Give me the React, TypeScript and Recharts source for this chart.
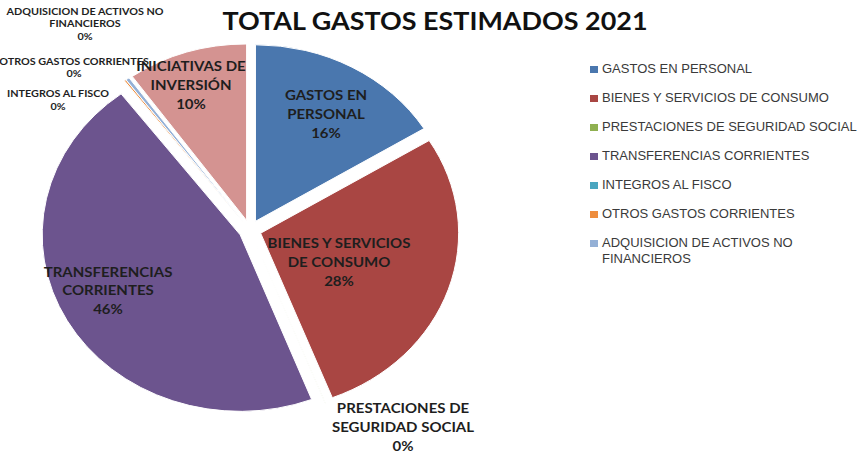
import {Legend, Pie, PieChart} from 'recharts';

const CATEGORIES = [
    'GASTOS EN PERSONAL',
    'BIENES Y SERVICIOS DE CONSUMO',
    'PRESTACIONES DE SEGURIDAD SOCIAL',
    'TRANSFERENCIAS CORRIENTES',
    'INTEGROS AL FISCO',
    'OTROS GASTOS CORRIENTES',
    'ADQUISICION DE ACTIVOS NO FINANCIEROS',
    'INICIATIVAS DE INVERSIÓN',
];
const VALUES = [16.2, 27.9, 0.02, 45.6, 0.02, 0.15, 0.3, 9.8];
const LABEL_LINES = [
    ['GASTOS EN', 'PERSONAL'],
    ['BIENES Y SERVICIOS', 'DE CONSUMO'],
    ['PRESTACIONES DE', 'SEGURIDAD SOCIAL'],
    ['TRANSFERENCIAS', 'CORRIENTES'],
    ['INTEGROS AL FISCO'],
    ['OTROS GASTOS CORRIENTES'],
    ['ADQUISICION DE ACTIVOS NO', 'FINANCIEROS'],
    ['INICIATIVAS DE', 'INVERSIÓN'],
];
const HIDDEN_IN_LEGEND = ['INICIATIVAS DE INVERSIÓN'];
const TITLE = 'TOTAL GASTOS ESTIMADOS 2021';

const COLORS = ['#4a77ae', '#a94643', '#8fb050', '#6c548e', '#4aa6c0', '#ee8d3e', '#94b0d6', '#d49391'];

// label anchors: center x, first baseline y, font size, line height
const LABEL_STYLE = [
    {x: 326, y: 100, fs: 12.5, lh: 19},
    {x: 339, y: 248, fs: 12.5, lh: 19},
    {x: 403, y: 413, fs: 12.5, lh: 19},
    {x: 108, y: 277, fs: 12.5, lh: 18.5},
    {x: 58, y: 97, fs: 9, lh: 13.5},
    {x: 74, y: 65, fs: 9, lh: 12.5},
    {x: 85, y: 14.5, fs: 9, lh: 13},
    {x: 191, y: 71, fs: 12.5, lh: 19},
];

const W = 858;
const H = 455;
const PIE_CX = 250;
const PIE_CY = 230;
const RADIUS = 176.5;
const STRETCH_X = 198 / 176.5;
const EXPLODE = 10;
const RAD = Math.PI / 180;
const LABEL_FONT = 'Lato, "Open Sans", sans-serif';

const data = CATEGORIES.map((name, i) => ({name, value: VALUES[i], fill: COLORS[i]}));

function ExplodedSlice(props: any) {
    const {cx, cy, outerRadius, startAngle, endAngle, fill} = props;
    const mid = (startAngle + endAngle) / 2;
    const ox = cx + EXPLODE * STRETCH_X * Math.cos(-mid * RAD);
    const oy = cy + EXPLODE * Math.sin(-mid * RAD);
    const rx = outerRadius * STRETCH_X;
    const pt = (a: number) => [ox + rx * Math.cos(-a * RAD), oy + outerRadius * Math.sin(-a * RAD)];
    const [x1, y1] = pt(startAngle);
    const [x2, y2] = pt(endAngle);
    const large = Math.abs(endAngle - startAngle) > 180 ? 1 : 0;
    const sweep = startAngle > endAngle ? 1 : 0;
    return (
        <path
            d={`M${ox},${oy} L${x1},${y1} A${rx},${outerRadius} 0 ${large} ${sweep} ${x2},${y2} Z`}
            fill={fill}
            stroke="#ffffff"
            strokeWidth={1}
        />
    );
}

function renderLabel(props: any) {
    const {index, percent} = props;
    const s = LABEL_STYLE[index];
    const lines = [...LABEL_LINES[index], `${Math.round(percent * 100)}%`];
    return (
        <g key={`lbl-${index}`} transform={`translate(${s.x},${s.y}) scale(1.2,1)`}>
            <text
                textAnchor="middle"
                fontFamily={LABEL_FONT}
                fontWeight={700}
                fontSize={s.fs}
                fill="#1e1e1e"
            >
                {lines.map((ln, i) => (
                    <tspan key={i} x={0} y={i * s.lh}>
                        {ln}
                    </tspan>
                ))}
            </text>
        </g>
    );
}

function LegendList({payload}: any) {
    const items = (payload ?? [])
        .filter((p: any) => !HIDDEN_IN_LEGEND.includes(p.value))
        .sort((a: any, b: any) => CATEGORIES.indexOf(a.value) - CATEGORIES.indexOf(b.value));
    return (
        <div style={{fontFamily: '"Liberation Sans", Arial, sans-serif', fontSize: 13, color: '#3a3a3a'}}>
            {items.map((p: any) => (
                <div key={p.value} style={{display: 'flex', alignItems: 'flex-start', lineHeight: '16px', marginBottom: 13}}>
                    <span style={{width: 8, height: 7, marginTop: 5, marginRight: 4, background: p.color, flex: 'none'}}/>
                    <span style={{width: 258}}>{p.value}</span>
                </div>
            ))}
        </div>
    );
}

export default function App() {
    return (
        <div style={{position: 'absolute', left: 0, top: 0, width: W, height: H, background: '#ffffff'}}>
            <svg width={W} height={H} style={{position: 'absolute', left: 0, top: 0}}>
                <text
                    x={435}
                    y={30}
                    textAnchor="middle"
                    fontFamily={LABEL_FONT}
                    fontWeight={700}
                    fontSize={25}
                    textLength={425}
                    lengthAdjust="spacingAndGlyphs"
                    fill="#111111"
                >
                    {TITLE}
                </text>
            </svg>
            <div style={{position: 'absolute', left: 0, top: 0}}>
                <PieChart width={W} height={H} margin={{top: 0, right: 0, bottom: 0, left: 0}}>
                    <Pie
                        data={data}
                        dataKey="value"
                        nameKey="name"
                        cx={PIE_CX}
                        cy={PIE_CY}
                        outerRadius={RADIUS}
                        startAngle={90}
                        endAngle={-270}
                        shape={ExplodedSlice}
                        label={renderLabel}
                        labelLine={false}
                        isAnimationActive={false}
                    />
                    <Legend
                        layout="vertical"
                        align="right"
                        verticalAlign="top"
                        itemSorter={null}
                        content={LegendList}
                        wrapperStyle={{position: 'absolute', left: 590, top: 61, width: 268}}
                    />
                </PieChart>
            </div>
        </div>
    );
}
